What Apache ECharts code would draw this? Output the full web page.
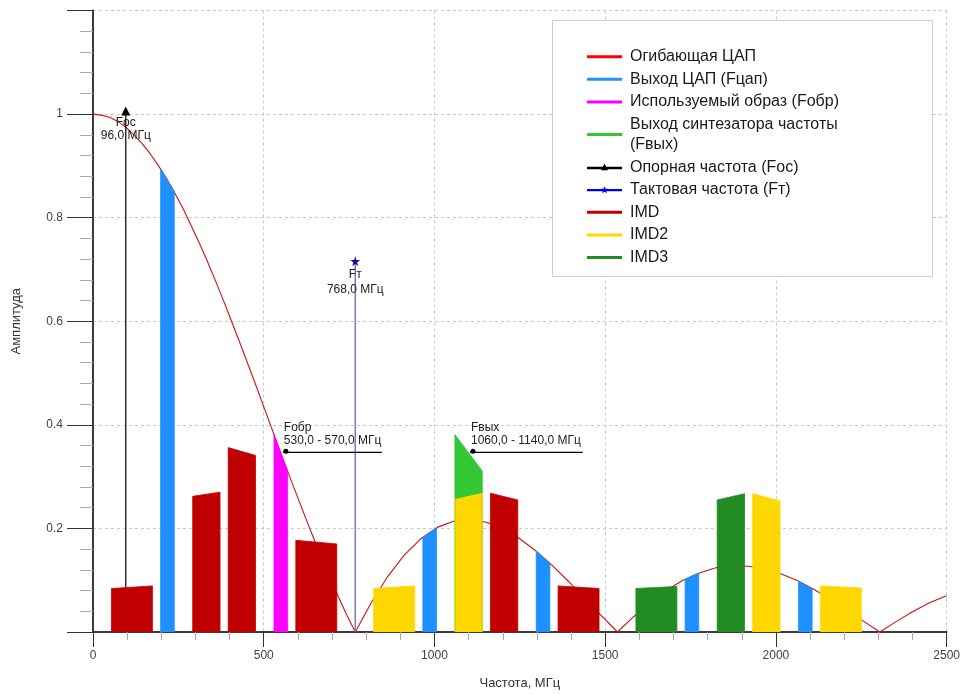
<!DOCTYPE html>
<html><head><meta charset="utf-8">
<script src="https://cdn.jsdelivr.net/npm/echarts@6/dist/echarts.min.js"></script>
<style>html,body{margin:0;padding:0;background:#fff}#c{width:963px;height:695px}</style>
</head><body><div id="c"></div>
<script>
// ---- data ----
const envFreq = [0,24,48,72,96,120,144,168,192,216,240,264,288,312,336,360,384,408,432,456,480,504,528,552,576,600,624,648,672,696,720,744,768,816,864,912,960,1008,1056,1104,1152,1200,1248,1296,1344,1392,1440,1488,1536,1584,1632,1680,1728,1776,1824,1872,1920,1968,2016,2064,2112,2160,2208,2256,2304,2352,2400,2448,2496,2500];
const envAmp = [1,0.998,0.994,0.986,0.975,0.960,0.943,0.923,0.900,0.875,0.847,0.817,0.784,0.750,0.714,0.676,0.637,0.596,0.555,0.513,0.471,0.428,0.385,0.342,0.300,0.259,0.218,0.178,0.139,0.102,0.066,0.032,0,
  0.058,0.108,0.149,0.180,0.202,0.214,0.217,0.212,0.200,0.181,0.157,0.129,0.098,0.065,0.032,0,
  0.030,0.057,0.081,0.100,0.114,0.124,0.128,0.127,0.122,0.112,0.099,0.082,0.063,0.042,0.021,0,
  0.020,0.039,0.056,0.069,0.070];
// bands: [fStart, fEnd, ampStart, ampEnd]
const dacBands = [[198,238,0.894,0.850],[966,1006,0.183,0.201],[1298,1338,0.156,0.133],[1734,1774,0.102,0.114],[2066,2106,0.098,0.084]];
const imageBands = [[530,570,0.381,0.311]];
const outBands = [[1060,1140,0.381,0.311]];
const imdBands = [[54,174,0.084,0.089],[292,372,0.262,0.270],[396,476,0.356,0.341],[594,714,0.177,0.170],[1164,1244,0.268,0.255],[1362,1482,0.089,0.084]];
const imd2Bands = [[822,942,0.084,0.089],[1060,1140,0.256,0.268],[1932,2012,0.267,0.253],[2130,2250,0.089,0.085]];
const imd3Bands = [[1590,1710,0.084,0.088],[1828,1908,0.255,0.267]];
const refMarker = [96, 1.006];
const clockMarker = [768, 0.716];
const imageNote = [556, 846, 0.347];
const outNote = [1104, 1434, 0.347];
const yTickLabels = {0.2:'0.2',0.4:'0.4',0.6:'0.6',0.8:'0.8',1:'1'};

const names = {
  env:'Огибающая ЦАП', dac:'Выход ЦАП (Fцап)', img:'Используемый образ (Fобр)',
  out:'Выход синтезатора частоты\n(Fвых)', ref:'Опорная частота (Fос)', clk:'Тактовая частота (Fт)',
  imd:'IMD', imd2:'IMD2', imd3:'IMD3'
};
const FONT = 'Liberation Sans, Arial, sans-serif';
const starPath = 'path://M50,0 L61,35 L98,35 L68,57 L79,91 L50,70 L21,91 L32,57 L2,35 L39,35 Z';
const lineIcon = 'path://M0,0h35v3h-35z';
const triIcon = 'path://M0,6h35v2.4h-35z M17.5,3 L21,9.5 L14,9.5 Z';
const starIcon = 'path://M0,6h35v2.4h-35z M17.5,3.2 L18.5,5.8 L21.2,5.9 L19.1,7.6 L19.8,10.3 L17.5,8.8 L15.2,10.3 L15.9,7.6 L13.8,5.9 L16.5,5.8 Z';

function bandSeries(name, color, bands, z) {
  return bands.map(b => ({
    name, type:'line', z, symbol:'none', silent:true,
    data:[[b[0],0],[b[0],b[2]],[b[1],b[3]],[b[1],0]],
    lineStyle:{color, width:0.8}, itemStyle:{color}, areaStyle:{color, opacity:1}
  }));
}

const series = [];
series.push({
  name:names.env, type:'line', z:1, symbol:'none', silent:true,
  data: envFreq.map((f,i)=>[f, envAmp[i]]),
  lineStyle:{color:'#d21010', width:1.1}, itemStyle:{color:'#d21010'}
});
series.push({
  name:names.ref, type:'line', z:2, silent:true,
  data:[{value:[refMarker[0],0], symbol:'none'},
        {value:refMarker, symbol:'triangle', symbolSize:9,
         label:{show:true, position:'bottom', distance:1, formatter:'Fос\n96,0 МГц', color:'#222', fontSize:12, lineHeight:12.5, fontFamily:FONT}}],
  lineStyle:{color:'#000', width:1.2}, itemStyle:{color:'#000'}
});
series.push({
  name:names.clk, type:'line', z:2, silent:true,
  data:[{value:[clockMarker[0],0], symbol:'none'},
        {value:clockMarker, symbol:starPath, symbolSize:10,
         label:{show:true, position:'bottom', distance:1, formatter:'Fт\n768,0 МГц', color:'#222', fontSize:12, lineHeight:15, fontFamily:FONT}}],
  lineStyle:{color:'#7474a8', width:1.4}, itemStyle:{color:'#101095'}
});
series.push(...bandSeries(names.dac, '#1e90ff', dacBands, 3));
series.push(...bandSeries(names.img, '#ff00ff', imageBands, 3));
series.push(...bandSeries(names.out, '#33c733', outBands, 3));
series.push(...bandSeries(names.imd, '#c00000', imdBands, 3));
series.push(...bandSeries(names.imd2, '#ffd700', imd2Bands, 3));
series.push(...bandSeries(names.imd3, '#228b22', imd3Bands, 3));

function noteSeries(note, text) {
  return {
    name:'note'+text, type:'line', z:4, silent:true,
    data:[{value:[note[0],note[2]], symbol:'circle', symbolSize:5, symbolOffset:[3,-1],
           label:{show:true, position:'top', align:'left', distance:1, offset:[-2,0], formatter:text, color:'#222', fontSize:12, lineHeight:13.5, fontFamily:FONT}},
          {value:[note[1],note[2]], symbol:'none'}],
    lineStyle:{color:'#000', width:1.3}, itemStyle:{color:'#000'}
  };
}
series.push(noteSeries(imageNote, 'Fобр\n530,0 - 570,0 МГц'));
series.push(noteSeries(outNote, 'Fвых\n1060,0 - 1140,0 МГц'));

const chart = echarts.init(document.getElementById('c'), null, {renderer:'canvas'});
chart.setOption({
  animation:false,
  backgroundColor:'#fff',
  grid:{left:93, right:16, top:10.5, bottom:62, containLabel:false},
  xAxis:{
    type:'value', min:0, max:2500, interval:500,
    name:'Частота, МГц', nameLocation:'middle', nameGap:45,
    nameTextStyle:{fontSize:13, color:'#333', fontFamily:FONT},
    axisLine:{show:true, onZero:false, lineStyle:{color:'#3a3a3a', width:2}},
    axisTick:{show:true, length:15, lineStyle:{color:'#333', width:1}},
    minorTick:{show:true, splitNumber:5, length:8, lineStyle:{color:'#a8a8a8', width:1}},
    axisLabel:{margin:18, fontSize:12, color:'#404040', fontFamily:FONT, formatter: v => String(v)},
    splitLine:{show:true, lineStyle:{color:'#c8c8c8', type:[3,3], width:1}}
  },
  yAxis:{
    type:'value', min:0, max:1.2, interval:0.2,
    name:'Амплитуда', nameLocation:'middle', nameGap:70, nameRotate:90,
    nameTextStyle:{fontSize:13, color:'#333', fontFamily:FONT},
    axisLine:{show:true, lineStyle:{color:'#3a3a3a', width:2}},
    axisTick:{show:true, length:26, lineStyle:{color:'#333', width:1}},
    minorTick:{show:true, splitNumber:5, length:13, lineStyle:{color:'#a8a8a8', width:1}},
    axisLabel:{margin:30, fontSize:12, color:'#404040', fontFamily:FONT,
      formatter: v => { const k = Math.round(v*10)/10; return yTickLabels[k] || ''; }},
    splitLine:{show:true, lineStyle:{color:'#c8c8c8', type:[3,3], width:1}}
  },
  graphic:[{type:'rect', z:1, silent:true, shape:{x:552.5, y:20.5, width:380, height:256},
    style:{fill:'#fff', stroke:'#d0d0d0', lineWidth:1}}],
  legend:{
    orient:'vertical', left:587, top:46.7, padding:0, itemWidth:35, itemHeight:14, itemGap:2.6,
    selectedMode:false, z:5,
    textStyle:{fontSize:16, lineHeight:20, color:'#1a1a1a', fontFamily:FONT, padding:[0,0,0,3]},
    itemStyle:{borderWidth:0},
    data:[
      {name:names.env, icon:lineIcon, itemStyle:{color:'#ff0000'}},
      {name:names.dac, icon:lineIcon},
      {name:names.img, icon:lineIcon},
      {name:names.out, icon:lineIcon},
      {name:names.ref, icon:triIcon},
      {name:names.clk, icon:starIcon, itemStyle:{color:'#0000ee'}},
      {name:names.imd, icon:lineIcon},
      {name:names.imd2, icon:lineIcon},
      {name:names.imd3, icon:lineIcon}
    ]
  },
  series
});
</script></body></html>
